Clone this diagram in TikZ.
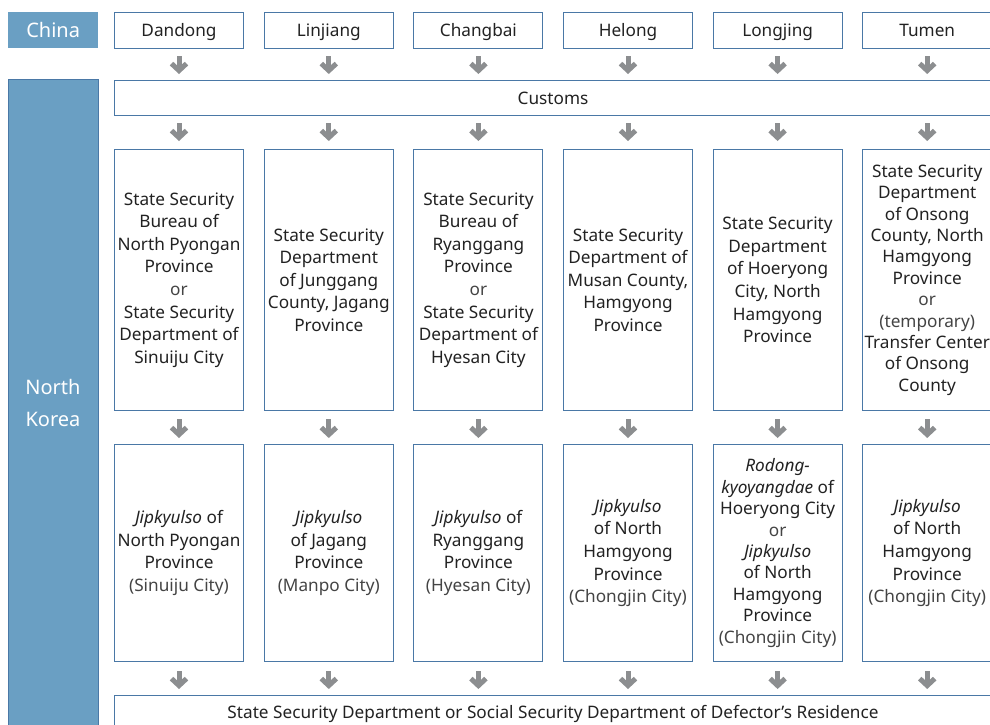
\documentclass[tikz,border=0pt]{standalone}
\usepackage{fontspec}
\setmainfont{Noto Sans}
\usetikzlibrary{arrows.meta}
\definecolor{nkblue}{HTML}{6A9FC3}
\definecolor{bordblue}{HTML}{4A78A6}
\definecolor{arrgray}{HTML}{8C8E90}
\definecolor{txt}{HTML}{222222}
\definecolor{lighttxt}{HTML}{444444}
\newcommand{\lt}[1]{{\color{lighttxt}#1}}
\begin{document}
\begin{tikzpicture}[x=1pt,y=-1pt,
  box/.style={draw=bordblue, line width=1pt, fill=white, minimum width=129pt,
    inner sep=0pt, align=center, text=txt, anchor=north west,
    font=\fontsize{17.2}{22.6}\selectfont},
  oneline/.style={text height=15pt, text depth=2.3pt},
  tight/.style={font=\fontsize{17.2}{21.4}\selectfont},
  side/.style={fill=nkblue, inner sep=0pt, anchor=north west, minimum width=90pt,
    text=white, align=center, font=\fontsize{20}{32}\selectfont},
  garrow/.style={draw=arrgray, line width=5pt,
    -{Straight Barb[length=7pt,width=15pt]}}
]
\useasboundingbox (0,0) rectangle (990,724);
\clip (0,0) rectangle (990,724);

% side labels
\node[side, minimum height=36pt, text height=17pt, text depth=2pt] (china) at (8,12) {China};
\node[side, draw=bordblue, line width=1pt, minimum height=660pt] (nk) at (8,79) {};
\node[text=white, align=center, font=\fontsize{20}{32}\selectfont] (nklab) at (53,403) {North\\Korea};

% top row
\node[box, oneline, minimum height=36pt] (t1) at (114,12) {Dandong};
\node[box, oneline, minimum height=36pt] (t2) at (263.8,12) {Linjiang};
\node[box, oneline, minimum height=36pt] (t3) at (413.4,12) {Changbai};
\node[box, oneline, minimum height=36pt] (t4) at (563,12) {Helong};
\node[box, oneline, minimum height=36pt] (t5) at (712.6,12) {Longjing};
\node[box, oneline, minimum height=36pt] (t6) at (862.2,12) {Tumen};

% customs
\node[box, oneline, minimum height=35pt, minimum width=877pt] (cust) at (114,80) {Customs};

% row 3
\node[box, minimum height=261pt] (r1) at (114,149)
  {State Security\\Bureau of\\North Pyongan\\Province\\\lt{or}\\State Security\\Department of\\Sinuiju City};
\node[box, minimum height=261pt] (r2) at (263.8,149)
  {State Security\\Department\\of Junggang\\County, Jagang\\Province};
\node[box, minimum height=261pt] (r3) at (413.4,149)
  {State Security\\Bureau of\\Ryanggang\\Province\\\lt{or}\\State Security\\Department of\\Hyesan City};
\node[box, minimum height=261pt] (r4) at (563,149)
  {State Security\\Department of\\Musan County,\\Hamgyong\\Province};
\node[box, minimum height=261pt] (r5) at (712.6,149)
  {State Security\\Department\\of Hoeryong\\City, North\\Hamgyong\\Province};
\node[box, tight, minimum height=261pt] (r6) at (862.2,149)
  {State Security\\Department\\of Onsong\\County, North\\Hamgyong\\Province\\\lt{or}\\\lt{(temporary)}\\Transfer Center\\of Onsong\\County};

% row 4
\node[box, minimum height=217pt] (j1) at (114,444)
  {\textit{Jipkyulso} of\\North Pyongan\\Province\\\lt{(Sinuiju City)}};
\node[box, minimum height=217pt] (j2) at (263.8,444)
  {\textit{Jipkyulso}\\of Jagang\\Province\\\lt{(Manpo City)}};
\node[box, minimum height=217pt] (j3) at (413.4,444)
  {\textit{Jipkyulso} of\\Ryanggang\\Province\\\lt{(Hyesan City)}};
\node[box, minimum height=217pt] (j4) at (563,444)
  {\textit{Jipkyulso}\\of North\\Hamgyong\\Province\\\lt{(Chongjin City)}};
\node[box, tight, minimum height=217pt] (j5) at (712.6,444)
  {\textit{Rodong-}\\\textit{kyoyangdae} of\\Hoeryong City\\\lt{or}\\\textit{Jipkyulso}\\of North\\Hamgyong\\Province\\\lt{(Chongjin City)}};
\node[box, minimum height=217pt] (j6) at (862.2,444)
  {\textit{Jipkyulso}\\of North\\Hamgyong\\Province\\\lt{(Chongjin City)}};

% bottom
\node[box, oneline, minimum height=34pt, minimum width=877pt] (res) at (114,695)
  {State Security Department or Social Security Department of Defector’s Residence};

% arrows
\foreach \i in {1,...,6}{
  \draw[garrow] ([yshift=-7pt]t\i.south) -- ([yshift=6pt]cust.north -| t\i.south);
  \draw[garrow] ([yshift=-7pt]cust.south -| r\i.north) -- ([yshift=8pt]r\i.north);
  \draw[garrow] ([yshift=-8pt]r\i.south) -- ([yshift=6pt]j\i.north);
  \draw[garrow] ([yshift=-9pt]j\i.south) -- ([yshift=6pt]res.north -| j\i.south);
}
\end{tikzpicture}
\end{document}
